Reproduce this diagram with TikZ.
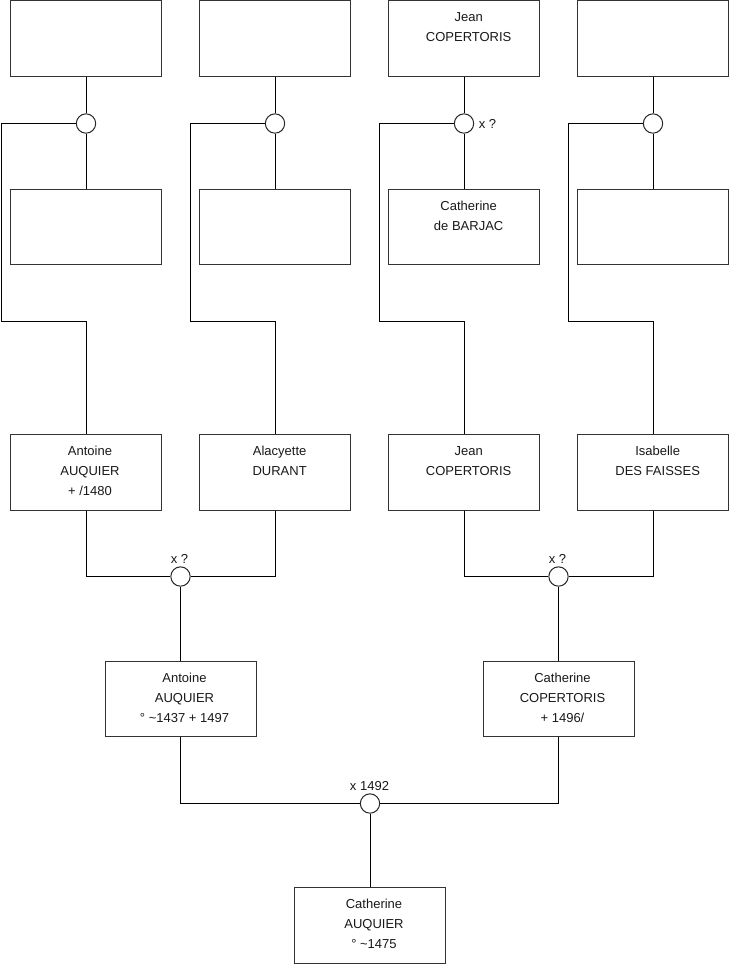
\documentclass[tikz,border=0pt]{standalone}
\usepackage{fontspec}
\setmainfont{Liberation Sans}
\begin{document}
\begin{tikzpicture}[x=0.75pt,y=-0.75pt,
  person/.style={draw=black!80, line width=0.75pt, minimum width=113.25pt, minimum height=56.5pt, inner sep=0pt, fill=white},
  txt/.style={anchor=north, align=center, inner sep=0pt, font=\fontsize{9.75pt}{15pt}\selectfont, text=black!90},
  marr/.style={circle, draw=black!85, line width=0.75pt, minimum size=14.5pt, inner sep=0pt, fill=white},
  note/.style={inner sep=0pt, font=\fontsize{9.75pt}{12pt}\selectfont, text=black!90},
  link/.style={draw=black, line width=0.75pt}]
\fill[white] (0,0) rectangle (740,975);
\useasboundingbox (0,0) rectangle (740,975);

% boxes row 1
\node[person] (p1) at (86,38.5) {};
\node[person] (p2) at (275,38.5) {};
\node[person] (p3) at (464,38.5) {};
\node[person] (p4) at (653,38.5) {};
% boxes row 2
\node[person] (p5) at (86,227) {};
\node[person] (p6) at (275,227) {};
\node[person] (p7) at (464,227) {};
\node[person] (p8) at (653,227) {};
% row 3
\node[person] (p9) at (86,472.5) {};
\node[person] (p10) at (275,472.5) {};
\node[person] (p11) at (464,472.5) {};
\node[person] (p12) at (653,472.5) {};
% row 4
\node[person] (p13) at (180.5,699) {};
\node[person] (p14) at (558.5,699) {};
% bottom
\node[person] (p15) at (370,925.5) {};

% marriage circles
\node[marr] (c1) at (86,123.5) {};
\node[marr] (c2) at (275,123.5) {};
\node[marr] (c3) at (464,123.5) {};
\node[marr] (c4) at (653,123.5) {};
\node[marr] (c5) at (180.5,576.5) {};
\node[marr] (c6) at (558.5,576.5) {};
\node[marr] (c7) at (370,803.5) {};

% bend coordinates
\coordinate (a1) at (1.5,123.5);  \coordinate (b1) at (1.5,321);
\coordinate (a2) at (190.5,123.5); \coordinate (b2) at (190.5,321);
\coordinate (a3) at (379.5,123.5); \coordinate (b3) at (379.5,321);
\coordinate (a4) at (568.5,123.5); \coordinate (b4) at (568.5,321);

% connectors
\foreach \i/\j/\c in {1/5/1,2/6/2,3/7/3,4/8/4}{
  \draw[link] (p\i.south) -- (c\c.north);
  \draw[link] (c\c.south) -- (p\j.north);
}
\draw[link] (c1.west) -- (a1) -- (b1) -| (p9.north);
\draw[link] (c2.west) -- (a2) -- (b2) -| (p10.north);
\draw[link] (c3.west) -- (a3) -- (b3) -| (p11.north);
\draw[link] (c4.west) -- (a4) -- (b4) -| (p12.north);

\draw[link] (p9.south) |- (c5.west);
\draw[link] (p10.south) |- (c5.east);
\draw[link] (c5.south) -- (p13.north);
\draw[link] (p11.south) |- (c6.west);
\draw[link] (p12.south) |- (c6.east);
\draw[link] (c6.south) -- (p14.north);
\draw[link] (p13.south) |- (c7.west);
\draw[link] (p14.south) |- (c7.east);
\draw[link] (c7.south) -- (p15.north);

% texts
\node[txt] (t3) at ([xshift=3.5pt,yshift=-8.8pt]p3.north) {Jean\\COPERTORIS};
\node[txt] (t7) at ([xshift=3.5pt,yshift=-8.8pt]p7.north) {Catherine\\de BARJAC};
\node[txt] (t9) at ([xshift=3pt,yshift=-8.8pt]p9.north) {Antoine\\AUQUIER\\+ /1480};
\node[txt] (t10) at ([xshift=3.5pt,yshift=-8.8pt]p10.north) {Alacyette\\DURANT};
\node[txt] (t11) at ([xshift=3.5pt,yshift=-8.8pt]p11.north) {Jean\\COPERTORIS};
\node[txt] (t12) at ([xshift=3.5pt,yshift=-8.8pt]p12.north) {Isabelle\\DES FAISSES};
\node[txt] (t13) at ([xshift=3pt,yshift=-8.8pt]p13.north) {Antoine\\AUQUIER\\\textdegree\ \textasciitilde1437 + 1497};
\node[txt] (t14) at ([xshift=3pt,yshift=-8.8pt]p14.north) {Catherine\\COPERTORIS\\+ 1496/};
\node[txt] (t15) at ([xshift=3pt,yshift=-8.8pt]p15.north) {Catherine\\AUQUIER\\\textdegree\ \textasciitilde1475};

% marriage notes
\node[note] (n3) at (487.5,124) {x ?};
\node[note] (n5) at (179.5,559) {x ?};
\node[note] (n6) at (557.5,559) {x ?};
\node[note] (n7) at (369.5,786) {x 1492};
\end{tikzpicture}
\end{document}
